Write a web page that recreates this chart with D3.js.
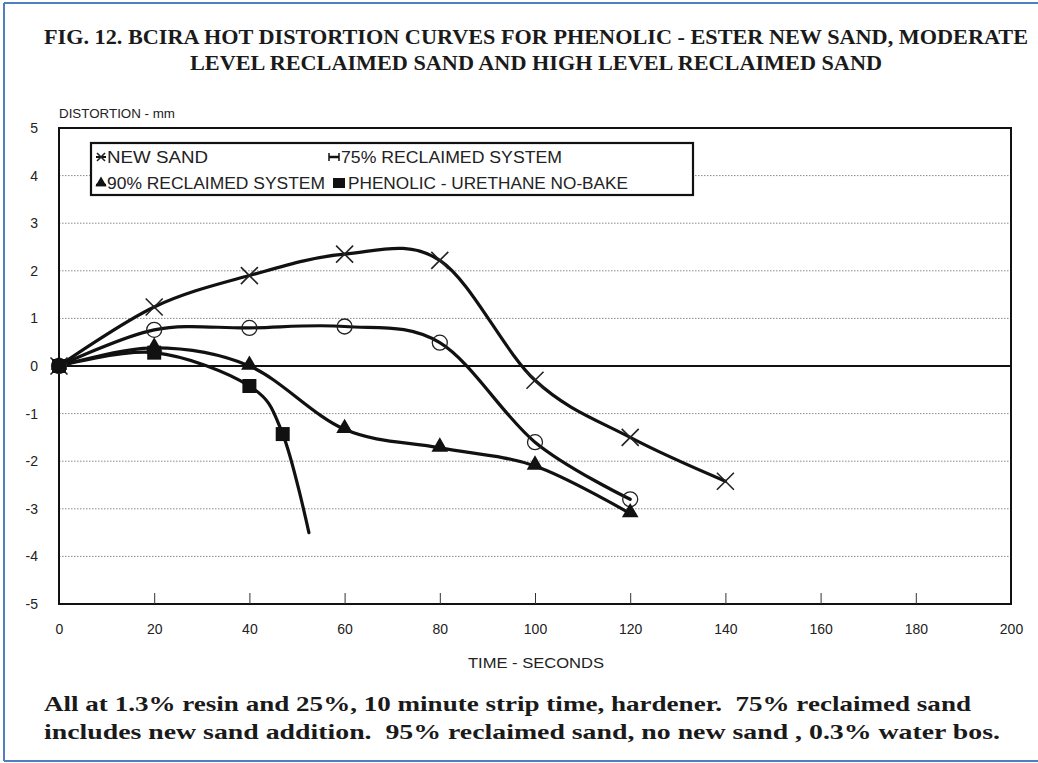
<!DOCTYPE html>
<html>
<head>
<meta charset="utf-8">
<script src="https://cdn.jsdelivr.net/npm/d3@7/dist/d3.min.js"></script>
<style>
  html, body { margin: 0; padding: 0; background: #fff; }
  svg { display: block; }
</style>
</head>
<body>
<svg id="chart" width="1038" height="763"></svg>
<script>
// ---------- DATA ----------
const titleLines = [
  "FIG. 12. BCIRA HOT DISTORTION CURVES FOR PHENOLIC - ESTER NEW SAND, MODERATE",
  "LEVEL RECLAIMED SAND AND HIGH LEVEL RECLAIMED SAND"
];
const noteLines = [
  "All at 1.3% resin and 25%, 10 minute strip time, hardener.  75% reclaimed sand",
  "includes new sand addition.  95% reclaimed sand, no new sand , 0.3% water bos."
];
const yAxisTitle = "DISTORTION - mm";
const xAxisTitle = "TIME - SECONDS";
const xTicks = [0, 20, 40, 60, 80, 100, 120, 140, 160, 180, 200];
const yTicks = [-5, -4, -3, -2, -1, 0, 1, 2, 3, 4, 5];

const newSandTime = [0, 20, 40, 60, 80, 100, 120, 140];
const newSandValues = [0, 1.24, 1.9, 2.35, 2.22, -0.3, -1.5, -2.42];

const reclaimed75Time = [0, 20, 40, 60, 80, 100, 120];
const reclaimed75Values = [0, 0.76, 0.8, 0.83, 0.49, -1.6, -2.8];

const reclaimed90Time = [0, 20, 40, 60, 80, 100, 120];
const reclaimed90Values = [0, 0.38, 0.0, -1.33, -1.72, -2.1, -3.1];

const urethaneTime = [0, 20, 40, 47, 52.5];
const urethaneValues = [0, 0.28, -0.42, -1.43, -3.5];
const urethaneMarked = [true, true, true, true, false];

const seriesNames = ["NEW SAND", "75% RECLAIMED SYSTEM", "90% RECLAIMED SYSTEM", "PHENOLIC - URETHANE NO-BAKE"];

// ---------- LAYOUT ----------
const svg = d3.select("#chart");
const plot = { left: 59, right: 1011, top: 128, bottom: 604 };
const x = d3.scaleLinear().domain([0, 200]).range([plot.left, plot.right]);
const y = d3.scaleLinear().domain([-5, 5]).range([plot.bottom, plot.top]);
const fmt = d => String(d); // plain hyphen-minus like the original

// Outer blue frame (scan border)
const blue = "#4f7fc0";
svg.append("line").attr("x1", 4).attr("x2", 1038).attr("y1", 3).attr("y2", 3).attr("stroke", blue).attr("stroke-width", 2);
svg.append("line").attr("x1", 4).attr("x2", 4).attr("y1", 3).attr("y2", 761).attr("stroke", blue).attr("stroke-width", 2);
svg.append("line").attr("x1", 4).attr("x2", 1038).attr("y1", 761).attr("y2", 761).attr("stroke", blue).attr("stroke-width", 2);

// Title
const serif = "'Liberation Serif', 'DejaVu Serif', serif";
const sans = "'Liberation Sans', Arial, sans-serif";
const titleBase = [44, 70];
const titleLen = [984, 692];
titleLines.forEach((t, i) => {
  svg.append("text").attr("x", 536).attr("y", titleBase[i])
    .attr("text-anchor", "middle")
    .attr("font-family", serif).attr("font-weight", "bold").attr("font-size", 22)
    .attr("fill", "#1a1a1a")
    .attr("textLength", titleLen[i]).attr("lengthAdjust", "spacingAndGlyphs")
    .text(t);
});

// Gridlines (dotted)
const g = svg.append("g");
g.selectAll("line.grid").data(yTicks.filter(v => v !== 0 && v !== 5 && v !== -5)).enter()
  .append("line").attr("class", "grid")
  .attr("x1", plot.left).attr("x2", plot.right)
  .attr("y1", d => y(d)).attr("y2", d => y(d))
  .attr("stroke", "#8a8a8a").attr("stroke-width", 1).attr("stroke-dasharray", "1.5,1.5");

// Zero line
g.append("line").attr("x1", plot.left).attr("x2", plot.right)
  .attr("y1", y(0)).attr("y2", y(0)).attr("stroke", "#111").attr("stroke-width", 2);

// Frame
g.append("rect").attr("x", plot.left).attr("y", plot.top)
  .attr("width", plot.right - plot.left).attr("height", plot.bottom - plot.top)
  .attr("fill", "none").attr("stroke", "#111").attr("stroke-width", 2);

// X axis (ticks inward, labels below)
const xAxis = d3.axisBottom(x).tickValues(xTicks).tickSize(-11).tickPadding(20).tickFormat(fmt);
const xg = svg.append("g").attr("transform", `translate(0,${plot.bottom})`).call(xAxis);
xg.select(".domain").remove();
xg.selectAll(".tick line").attr("stroke", "#333").attr("stroke-width", 1)
  .filter(d => d === 0 || d === 200).remove();
xg.selectAll(".tick text").attr("font-family", sans).attr("font-size", 14).attr("fill", "#222");

// Y axis labels
const yAxis = d3.axisLeft(y).tickValues(yTicks).tickSize(0).tickPadding(21).tickFormat(fmt);
const yg = svg.append("g").attr("transform", `translate(${plot.left},0)`).call(yAxis);
yg.select(".domain").remove();
yg.selectAll(".tick text").attr("font-family", sans).attr("font-size", 14).attr("fill", "#222");

// Axis titles
svg.append("text").attr("x", 59).attr("y", 118)
  .attr("font-family", sans).attr("font-size", 13.5).attr("fill", "#222")
  .attr("textLength", 116).attr("lengthAdjust", "spacingAndGlyphs")
  .text(yAxisTitle);
svg.append("text").attr("x", 536).attr("y", 668).attr("text-anchor", "middle")
  .attr("font-family", sans).attr("font-size", 14).attr("fill", "#222")
  .attr("textLength", 136).attr("lengthAdjust", "spacingAndGlyphs")
  .text(xAxisTitle);

// ---------- SERIES ----------
const line = d3.line().x(d => x(d.t)).y(d => y(d.v)).curve(d3.curveCardinal.tension(0));
const zip = (ts, vs, m) => ts.map((t, i) => ({ t, v: vs[i], marked: m ? m[i] : true }));

const sNew = zip(newSandTime, newSandValues);
const s75 = zip(reclaimed75Time, reclaimed75Values);
const s90 = zip(reclaimed90Time, reclaimed90Values);
const sUr = zip(urethaneTime, urethaneValues, urethaneMarked);

const lines = svg.append("g");
[sNew, s75, s90, sUr].forEach(s => {
  lines.append("path").datum(s).attr("d", line)
    .attr("fill", "none").attr("stroke", "#111").attr("stroke-width", 3.2)
    .attr("stroke-linejoin", "round").attr("stroke-linecap", "round");
});

const mk = svg.append("g");
// X markers
function drawX(sel, cx, cy, r, w) {
  sel.append("path").attr("d", `M${cx - r},${cy - r}L${cx + r},${cy + r}M${cx - r},${cy + r}L${cx + r},${cy - r}`)
    .attr("stroke", "#222").attr("stroke-width", w).attr("fill", "none");
}
// circles
mk.selectAll("circle.c75").data(s75).enter().append("circle").attr("class", "c75")
  .attr("cx", d => x(d.t)).attr("cy", d => y(d.v)).attr("r", 7.5)
  .attr("fill", "none").attr("stroke", "#222").attr("stroke-width", 1.3);
// triangles
const tri = d3.symbol().type(d3.symbolTriangle).size(120);
mk.selectAll("path.t90").data(s90).enter().append("path").attr("class", "t90")
  .attr("d", tri).attr("transform", d => `translate(${x(d.t)},${y(d.v) - 1})`)
  .attr("fill", "#111");
// X
sNew.forEach(d => drawX(mk, x(d.t), y(d.v), 8.5, 1.6));
// squares
mk.selectAll("rect.sq").data(sUr.filter(d => d.marked)).enter().append("rect").attr("class", "sq")
  .attr("x", d => x(d.t) - 7).attr("y", d => y(d.v) - 7).attr("width", 14).attr("height", 14)
  .attr("fill", "#111");

// ---------- LEGEND ----------
const lg = svg.append("g");
lg.append("rect").attr("x", 91).attr("y", 143).attr("width", 602).attr("height", 52)
  .attr("fill", "#fff").attr("stroke", "#111").attr("stroke-width", 2.2);
const legendPos = [
  { mx: 101, tx: 107, y: 157, len: 101 },
  { mx: 334, tx: 341, y: 157, len: 221 },
  { mx: 101, tx: 107, y: 183, len: 218 },
  { mx: 339, tx: 348, y: 183, len: 280 }
];
seriesNames.forEach((n, i) => {
  const p = legendPos[i];
  lg.append("text").attr("x", p.tx).attr("y", p.y + 5.5)
    .attr("font-family", sans).attr("font-size", 16).attr("fill", "#222")
    .attr("textLength", p.len).attr("lengthAdjust", "spacingAndGlyphs")
    .text(n);
});
// legend markers
{
  const p0 = legendPos[0];
  lg.append("line").attr("x1", p0.mx - 5).attr("x2", p0.mx + 5).attr("y1", p0.y).attr("y2", p0.y).attr("stroke", "#111").attr("stroke-width", 2);
  drawX(lg, p0.mx, p0.y, 4, 1.6);
  const p1 = legendPos[1];
  lg.append("line").attr("x1", p1.mx - 5).attr("x2", p1.mx + 5).attr("y1", p1.y).attr("y2", p1.y).attr("stroke", "#111").attr("stroke-width", 2.5);
  lg.append("line").attr("x1", p1.mx - 5).attr("x2", p1.mx - 5).attr("y1", p1.y - 4).attr("y2", p1.y + 4).attr("stroke", "#111").attr("stroke-width", 1.5);
  lg.append("line").attr("x1", p1.mx + 5).attr("x2", p1.mx + 5).attr("y1", p1.y - 4).attr("y2", p1.y + 4).attr("stroke", "#111").attr("stroke-width", 1.5);
  const p2 = legendPos[2];
  lg.append("line").attr("x1", p2.mx - 5).attr("x2", p2.mx + 5).attr("y1", p2.y + 2).attr("y2", p2.y + 2).attr("stroke", "#111").attr("stroke-width", 2.5);
  lg.append("path").attr("d", d3.symbol().type(d3.symbolTriangle).size(55))
    .attr("transform", `translate(${p2.mx},${p2.y})`).attr("fill", "#111");
  const p3 = legendPos[3];
  lg.append("rect").attr("x", p3.mx - 6).attr("y", p3.y - 5).attr("width", 12).attr("height", 10).attr("fill", "#111");
}

// ---------- NOTE ----------
const noteBase = [711, 739];
const noteLen = [927, 956];
noteLines.forEach((t, i) => {
  svg.append("text").attr("x", 44).attr("y", noteBase[i])
    .attr("font-family", serif).attr("font-weight", "bold").attr("font-size", 22)
    .attr("fill", "#1a1a1a").attr("xml:space", "preserve").style("white-space", "pre")
    .attr("textLength", noteLen[i]).attr("lengthAdjust", "spacingAndGlyphs")
    .text(t);
});
</script>
</body>
</html>
